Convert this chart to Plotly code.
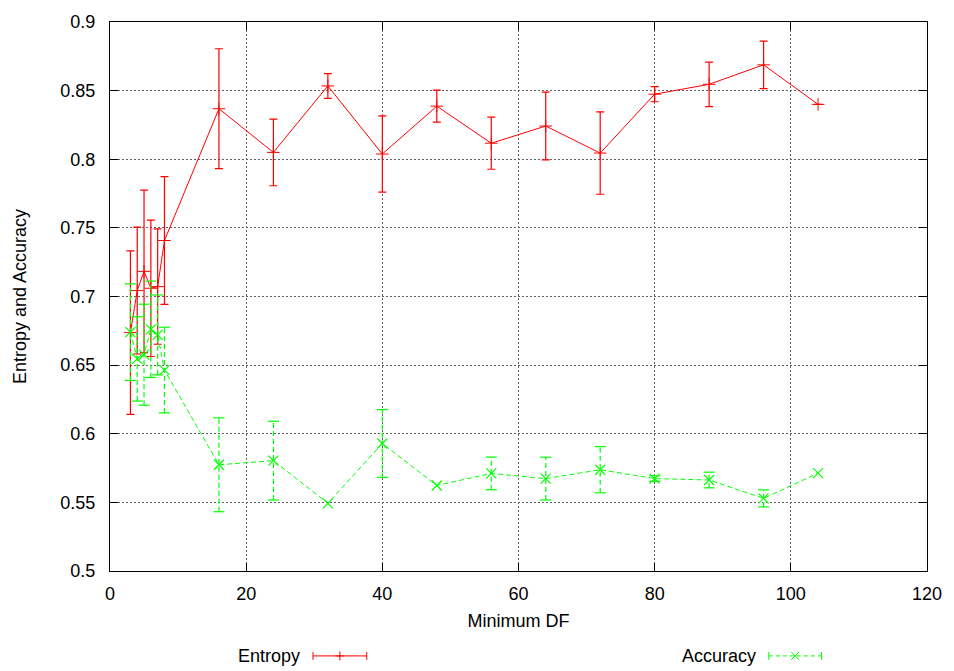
import plotly.graph_objects as go

# Minimum document-frequency thresholds
min_df = [3, 4, 5, 6, 7, 8, 16, 24, 32, 40, 48, 56, 64, 72, 80, 88, 96, 104]

# Entropy: mean and standard deviation
entropy = [0.6737, 0.7043, 0.7183, 0.7060, 0.7072, 0.7408, 0.8368, 0.8050, 0.8534,
           0.8038, 0.8387, 0.8117, 0.8242, 0.8045, 0.8474, 0.8546, 0.8688, 0.8400]
entropy_err = [0.0596, 0.0462, 0.0592, 0.0497, 0.0420, 0.0466, 0.0437, 0.0243, 0.0090,
               0.0278, 0.0117, 0.0190, 0.0247, 0.0300, 0.0055, 0.0162, 0.0173, 0.0]

# Accuracy: mean and standard deviation
accuracy = [0.6740, 0.6545, 0.6576, 0.6761, 0.6720, 0.6464, 0.5774, 0.5804, 0.5493,
            0.5929, 0.5623, 0.5711, 0.5673, 0.5738, 0.5673, 0.5663, 0.5529, 0.5713]
accuracy_err = [0.0352, 0.0307, 0.0368, 0.0351, 0.0291, 0.0312, 0.0342, 0.0287, 0.0,
                0.0247, 0.0, 0.0119, 0.0156, 0.0168, 0.002, 0.0057, 0.0062, 0.0]

x_ticks = [0, 20, 40, 60, 80, 100, 120]
y_ticks = [0.5, 0.55, 0.6, 0.65, 0.7, 0.75, 0.8, 0.85, 0.9]
y_tick_text = ["0.5", "0.55", "0.6", "0.65", "0.7", "0.75", "0.8", "0.85", "0.9"]

W, H = 954, 671
L, R, T, B = 110, 23, 15, 100
FONT = "Liberation Sans, Arial, Helvetica, sans-serif"
RED = "#ff0000"
GREEN = "#00ff00"
GREEN_DASH = "5px,3px"


def paper_x(px):
    return (px - L) / (W - L - R)


def paper_y(py):
    return 1 - (py - T) / (H - T - B)


fig = go.Figure()

# Entropy series with solid error bars
fig.add_trace(go.Scatter(
    x=min_df, y=entropy, name="Entropy", mode="lines+markers",
    line=dict(color=RED, width=1),
    marker=dict(symbol="cross-thin-open", size=9, color=RED,
                line=dict(color=RED, width=1)),
    error_y=dict(type="data", array=entropy_err, visible=True,
                 color=RED, thickness=1.2, width=4),
    showlegend=False,
))

# Accuracy error bars: dashed vertical segments plus caps
bar_x, bar_y, cap_x, cap_y = [], [], [], []
for xv, yv, ev in zip(min_df, accuracy, accuracy_err):
    if ev > 0:
        bar_x += [xv, xv, None]
        bar_y += [yv - ev, yv + ev, None]
        cap_x += [xv, xv]
        cap_y += [yv - ev, yv + ev]

fig.add_trace(go.Scatter(
    x=bar_x, y=bar_y, mode="lines", hoverinfo="skip",
    line=dict(color=GREEN, width=1.2, dash=GREEN_DASH), showlegend=False,
))
fig.add_trace(go.Scatter(
    x=cap_x, y=cap_y, mode="markers", hoverinfo="skip",
    marker=dict(symbol="line-ew", size=8, color=GREEN,
                line=dict(color=GREEN, width=1.2)),
    showlegend=False,
))
fig.add_trace(go.Scatter(
    x=min_df, y=accuracy, name="Accuracy", mode="lines+markers",
    line=dict(color=GREEN, width=1, dash=GREEN_DASH),
    marker=dict(symbol="x-thin-open", size=10, color=GREEN,
                line=dict(color=GREEN, width=1.2)),
    showlegend=False,
))

axis_common = dict(
    ticks="inside", ticklen=8, tickwidth=1, tickcolor="black",
    showline=True, linecolor="black", linewidth=1, mirror="ticks",
    showgrid=True, gridcolor="#606060", gridwidth=1, griddash="2px,2px",
    zeroline=False, tickfont=dict(family=FONT, size=18, color="black"),
)

fig.update_xaxes(
    range=[0, 120], tickvals=x_ticks, ticktext=[str(v) for v in x_ticks],
    title=dict(text="Minimum DF", font=dict(family=FONT, size=18, color="black"),
               standoff=11),
    ticklabelstandoff=6,
    **axis_common,
)
fig.update_yaxes(
    range=[0.5, 0.9], tickvals=y_ticks, ticktext=y_tick_text,
    title=dict(text="Entropy and Accuracy",
               font=dict(family=FONT, size=18, color="black"), standoff=29),
    ticklabelstandoff=10,
    **axis_common,
)

# Key below the plot: label text followed by a line sample
key_y = paper_y(657)
annotations = []
shapes = []


def key_entry(label, text_right, x0, x1, color, dash, marker):
    annotations.append(dict(
        text=label, xref="paper", yref="paper", x=paper_x(text_right), y=key_y,
        xanchor="right", yanchor="middle", showarrow=False,
        font=dict(family=FONT, size=18, color="black"),
    ))
    shapes.append(dict(type="line", xref="paper", yref="paper",
                       x0=paper_x(x0), x1=paper_x(x1), y0=key_y, y1=key_y,
                       line=dict(color=color, width=1, dash=dash)))
    for xe in (x0, x1):
        shapes.append(dict(type="line", xref="paper", yref="paper",
                           xsizemode="pixel", ysizemode="pixel",
                           xanchor=paper_x(xe), yanchor=key_y,
                           x0=0, x1=0, y0=-4, y1=4,
                           line=dict(color=color, width=1)))
    xm = paper_x((x0 + x1) / 2)
    if marker == "+":
        segs = [(-4.5, 0, 4.5, 0), (0, -4.5, 0, 4.5)]
    else:
        segs = [(-4, -4, 4, 4), (-4, 4, 4, -4)]
    for a, b, c, d in segs:
        shapes.append(dict(type="line", xref="paper", yref="paper",
                           xsizemode="pixel", ysizemode="pixel",
                           xanchor=xm, yanchor=key_y,
                           x0=a, y0=b, x1=c, y1=d,
                           line=dict(color=color, width=1)))


key_entry("Entropy", 303, 314, 368, RED, "solid", "+")
key_entry("Accuracy", 761, 772, 825, GREEN, "4px,3px", "x")

fig.update_layout(
    width=W, height=H,
    margin=dict(l=L, r=R, t=T, b=B, pad=0),
    paper_bgcolor="white", plot_bgcolor="white",
    font=dict(family=FONT, size=18, color="black"),
    annotations=annotations, shapes=shapes,
    showlegend=False,
)

fig.write_html("out.html")
